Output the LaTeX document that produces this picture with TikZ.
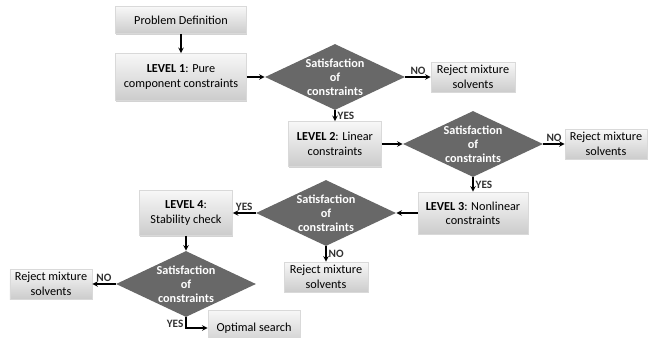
\documentclass[tikz,border=0pt]{standalone}
\usepackage{fontspec}
\setmainfont{Carlito}
\usetikzlibrary{shapes.geometric, arrows, positioning, shadows}

\definecolor{diagray}{RGB}{104,104,104}
\definecolor{labelgray}{RGB}{50,50,50}

\tikzstyle{process} = [rectangle, 
top color=gray!6, 
bottom color=gray!40, 
draw=gray!30, 
drop shadow={shadow xshift=0.6pt, shadow yshift=-0.8pt, opacity=0.35}, 
text centered, 
align=center, 
inner sep=1pt, 
font=\fontsize{8.7}{10.2}\selectfont]
\tikzstyle{reject} = [process, 
minimum width=2.1cm, 
minimum height=0.75cm]
\tikzstyle{decision} = [diamond, 
shape aspect=2.2, 
minimum width=3.5cm, 
minimum height=1.65cm, 
inner sep=-2pt, 
fill=diagray, 
text=white, 
align=center, 
font=\fontsize{8.7}{9.8}\selectfont\bfseries]
\tikzstyle{arrow} = [thick,->,>=stealth]
\tikzstyle{answer} = [font=\fontsize{8}{8}\selectfont\bfseries, 
text=labelgray, inner sep=1.5pt]

\begin{document}
\begin{tikzpicture}[on grid]
\useasboundingbox (0,0) rectangle (16.2,-8.425);

\node (problem) [process, minimum width=3.275cm, minimum height=0.675cm] 
      at (4.525,-0.5) {Problem Definition};
\node (level1) [process, minimum width=3.275cm, minimum height=1.175cm, 
      below=1.425cm of problem] {\textbf{LEVEL 1}: Pure\\component constraints};
\node (check1) [decision, right=3.85cm of level1] {Satisfaction\\of\\constraints};
\node (reject1) [reject, right=3.45cm of check1] {Reject mixture\\solvents};

\node (level2) [process, minimum width=2.325cm, minimum height=1.125cm, 
      below=1.675cm of check1] {\textbf{LEVEL 2}: Linear\\constraints};
\node (check2) [decision, right=3.45cm of level2] {Satisfaction\\of\\constraints};
\node (reject2) [reject, minimum width=2.05cm, right=3.325cm of check2] 
      {Reject mixture\\solvents};

\node (level3) [process, minimum width=2.75cm, minimum height=1.05cm, 
      below=1.725cm of check2] {\textbf{LEVEL 3}: Nonlinear\\constraints};
\node (check3) [decision, left=3.675cm of level3] {Satisfaction\\of\\constraints};
\node (reject3) [reject, below=1.6cm of check3] {Reject mixture\\solvents};

\node (level4) [process, minimum width=2.325cm, minimum height=1.125cm, 
      left=3.5cm of check3] {\textbf{LEVEL 4}:\\Stability check};
\node (check4) [decision, below=1.775cm of level4] {Satisfaction\\of\\constraints};
\node (reject4) [reject, minimum width=2.05cm, left=3.375cm of check4] 
      {Reject mixture\\solvents};
% last box runs off the bottom edge
\node (optimal) [process, minimum width=2.3cm, minimum height=0.9cm, 
      below right=1.1cm and 1.7cm of check4] {Optimal search};

\draw [arrow] (problem) -- (level1);
\draw [arrow] (level1) -- (check1);
\draw [arrow] (check1) -- node[answer, above] {NO} (reject1);
\draw [arrow] (check1) -- node[answer, right] {YES} (level2);
\draw [arrow] (level2) -- (check2);
\draw [arrow] (check2) -- node[answer, above] {NO} (reject2);
\draw [arrow] (check2) -- node[answer, right] {YES} (level3);
\draw [arrow] (level3) -- (check3);
\draw [arrow] (check3) -- node[answer, right] {NO} (reject3);
\draw [arrow] (check3) -- node[answer, above] {YES} (level4);
\draw [arrow] (level4) -- (check4);
\draw [arrow] (check4) -- node[answer, above] {NO} (reject4);
\draw [arrow] (check4) |- node[answer, left, pos=0.3] {YES} (optimal);

\end{tikzpicture}
\end{document}
